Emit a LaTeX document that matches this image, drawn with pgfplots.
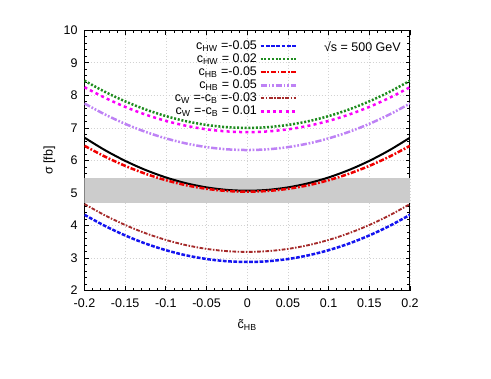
\documentclass[border=0pt]{standalone}
\usepackage{fontspec}
\setmainfont{Liberation Sans}
\usepackage{pgfplots}
\pgfplotsset{compat=1.18}
\definecolor{cblue}{RGB}{20,20,240}
\definecolor{cgreen}{RGB}{30,140,30}
\definecolor{cred}{RGB}{240,0,0}
\definecolor{cpurple}{RGB}{190,130,245}
\definecolor{cbrown}{RGB}{165,42,42}
\definecolor{cmag}{RGB}{250,0,250}
\begin{document}
\begin{tikzpicture}
\useasboundingbox (-67.6pt,-70.6pt) rectangle (325.2pt,232.5pt);
\begin{axis}[
    scale only axis, width=260.4pt, height=208.3pt,
    xmin=-0.2, xmax=0.2, ymin=2, ymax=10,
    xtick={-0.2,-0.15,-0.1,-0.05,0,0.05,0.1,0.15,0.2},
    ytick={2,3,4,5,6,7,8,9,10},
    minor tick num=4,
    tick align=inside, major tick length=3.5pt, minor tick length=2pt,
    tick style={black, line width=0.6pt},
    axis line style={line width=0.8pt},
    /pgf/number format/assume math mode=true,
    xticklabel style={/pgf/number format/fixed, /pgf/number format/precision=2, yshift=-3pt},
    yticklabel style={xshift=-2pt},
    ticklabel style={font=\fontsize{10}{12}\selectfont},
    grid=major, major grid style={dotted, gray!35, line width=0.5pt},
    xlabel={\~{c}\textsubscript{HB}}, ylabel={σ [fb]},
    xlabel style={yshift=-3pt},
    label style={font=\fontsize{10}{12}\selectfont},
    legend plot pos=right, legend cell align=right,
    legend style={draw=none, fill=none, at={(0.665,0.98)}, anchor=north east,
        font=\fontsize{10}{11}\selectfont, row sep=-2pt},
    legend image code/.code={\draw[#1] (0pt,0pt) -- (28pt,0pt);},
]
\addplot[fill=gray!40, draw=none, forget plot] coordinates {(-0.2,4.7) (0.2,4.7) (0.2,5.45) (-0.2,5.45)} -- cycle;
\addplot[black, line width=1.6pt, smooth, forget plot] coordinates {
(-0.2,6.70) (-0.175,6.318) (-0.15,5.987) (-0.125,5.707) (-0.1,5.478) (-0.075,5.299) (-0.05,5.172) (-0.025,5.095) (0,5.07)
(0.025,5.095) (0.05,5.172) (0.075,5.299) (0.1,5.478) (0.125,5.707) (0.15,5.987) (0.175,6.318) (0.2,6.70)};
\addplot[cblue, line width=2pt, smooth, dash pattern=on 3pt off 1.2pt] coordinates {
(-0.2,4.33) (-0.175,3.990) (-0.15,3.696) (-0.125,3.446) (-0.1,3.243) (-0.075,3.084) (-0.05,2.971) (-0.025,2.903) (0,2.88)
(0.025,2.903) (0.05,2.971) (0.075,3.084) (0.1,3.243) (0.125,3.446) (0.15,3.696) (0.175,3.990) (0.2,4.33)};
\addplot[cgreen, line width=2pt, smooth, dash pattern=on 1.6pt off 1.4pt] coordinates {
(-0.2,8.45) (-0.175,8.110) (-0.15,7.816) (-0.125,7.566) (-0.1,7.363) (-0.075,7.204) (-0.05,7.091) (-0.025,7.023) (0,7.0)
(0.025,7.023) (0.05,7.091) (0.075,7.204) (0.1,7.363) (0.125,7.566) (0.15,7.816) (0.175,8.110) (0.2,8.45)};
\addplot[cred, line width=2pt, smooth, dash pattern=on 4pt off 1.4pt on 1.4pt off 1.4pt] coordinates {
(-0.2,6.45) (-0.175,6.120) (-0.15,5.833) (-0.125,5.591) (-0.1,5.393) (-0.075,5.238) (-0.05,5.128) (-0.025,5.062) (0,5.04)
(0.025,5.062) (0.05,5.128) (0.075,5.238) (0.1,5.393) (0.125,5.591) (0.15,5.833) (0.175,6.120) (0.2,6.45)};
\addplot[cpurple, line width=2pt, smooth, dash pattern=on 5pt off 1.4pt on 1.4pt off 1.4pt on 1.4pt off 1.4pt] coordinates {
(-0.2,7.75) (-0.175,7.415) (-0.15,7.124) (-0.125,6.879) (-0.1,6.678) (-0.075,6.521) (-0.05,6.409) (-0.025,6.342) (0,6.32)
(0.025,6.342) (0.05,6.409) (0.075,6.521) (0.1,6.678) (0.125,6.879) (0.15,7.124) (0.175,7.415) (0.2,7.75)};
\addplot[cbrown, line width=1.5pt, smooth, dash pattern=on 3pt off 1.2pt on 1.2pt off 1.2pt] coordinates {
(-0.2,4.66) (-0.175,4.315) (-0.15,4.017) (-0.125,3.764) (-0.1,3.558) (-0.075,3.397) (-0.05,3.282) (-0.025,3.213) (0,3.19)
(0.025,3.213) (0.05,3.282) (0.075,3.397) (0.1,3.558) (0.125,3.764) (0.15,4.017) (0.175,4.315) (0.2,4.66)};
\addplot[cmag, line width=2pt, smooth, dash pattern=on 2.4pt off 2.6pt] coordinates {
(-0.2,8.25) (-0.175,7.927) (-0.15,7.646) (-0.125,7.409) (-0.1,7.215) (-0.075,7.064) (-0.05,6.956) (-0.025,6.892) (0,6.87)
(0.025,6.892) (0.05,6.956) (0.075,7.064) (0.1,7.215) (0.125,7.409) (0.15,7.646) (0.175,7.927) (0.2,8.25)};
\legend{c\textsubscript{HW} =-0.05, c\textsubscript{HW} = 0.02, c\textsubscript{HB} =-0.05, c\textsubscript{HB} = 0.05,
c\textsubscript{W} =-c\textsubscript{B} =-0.03, c\textsubscript{W} =-c\textsubscript{B} = 0.01}
\node[anchor=north east, font=\fontsize{10}{12}\selectfont] at (rel axis cs:0.985,0.975) {√s = 500 GeV};
\end{axis}
\end{tikzpicture}
\end{document}
